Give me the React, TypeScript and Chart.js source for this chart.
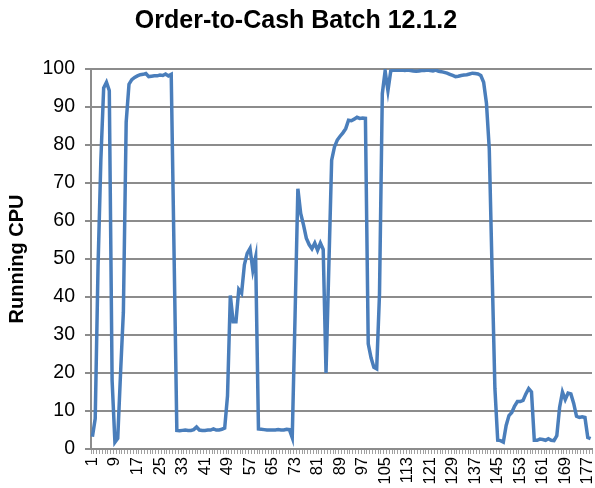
import React, { useEffect, useRef } from "react";
import { Chart, registerables } from "chart.js";

Chart.register(...registerables);

const titleText = "Order-to-Cash Batch 12.1.2";
const yAxisTitle = "Running CPU";
const pointCount = 178;
const categories: string[] = Array.from({ length: pointCount }, (_, i) => String(i + 1));
const labelStep = 8;
const yTicksMin = 0;
const yTicksMax = 100;
const yTicksStep = 10;

const runningCpu: number[] = [
  3.2, 8, 48, 76, 95, 96.5, 94.3, 18, 1.8, 2.8,
  20, 36, 86, 96, 97.2, 97.8, 98.2, 98.5, 98.6, 98.8,
  98.0, 98.1, 98.2, 98.2, 98.4, 98.3, 98.7, 98.2, 98.6, 52,
  4.9, 4.8, 4.9, 5.0, 4.9, 4.9, 5.1, 5.8, 5.0, 4.9,
  4.9, 5.0, 5.0, 5.3, 5.0, 5.0, 5.2, 5.5, 14, 40.4,
  33.5, 33.5, 42, 41, 48.5, 51.5, 52.8, 47, 50.5, 5.3,
  5.2, 5.1, 5.0, 5.0, 5.0, 5.0, 5.1, 5.0, 5.0, 5.2,
  5.1, 3, 35, 68.5, 62, 59, 55.5, 53.8, 52.7, 54.2,
  52.3, 54.2, 52.5, 20, 48, 76, 79.5, 81.3, 82.3, 83.2,
  84.3, 86.5, 86.4, 86.8, 87.3, 87, 87.1, 87, 27.7, 24,
  21.5, 21.1, 40.8, 93.5, 99.5, 94.3, 99.5, 99.7, 99.7, 99.7,
  99.7, 99.6, 99.7, 99.6, 99.5, 99.4, 99.5, 99.6, 99.6, 99.7,
  99.6, 99.5, 99.7, 99.4, 99.3, 99.1, 98.9, 98.6, 98.3, 98.0,
  98.1, 98.3, 98.4, 98.5, 98.7, 98.9, 98.8, 98.7, 98.3, 96.5,
  91, 79, 47, 16, 2.3, 2.2, 1.8, 6.2, 8.8, 9.6,
  11.3, 12.5, 12.5, 12.8, 14.5, 15.9, 15, 2.3, 2.3, 2.6,
  2.5, 2.3, 2.7, 2.3, 2.2, 3.5, 11, 15, 13, 14.7,
  14.5, 12, 8.6, 8.3, 8.5, 8.3, 3.0, 2.7,
];

const FONT = "'Liberation Sans', Arial, sans-serif";
const GRID = "#8c8c8c";

export default function App() {
  const ref = useRef<HTMLCanvasElement | null>(null);

  useEffect(() => {
    document.body.style.margin = "0";
    const canvas = ref.current;
    if (!canvas) return;
    const chart = new Chart(canvas, {
      type: "line",
      data: {
        labels: categories,
        datasets: [
          {
            data: runningCpu,
            borderColor: "#4A7EBB",
            backgroundColor: "#4A7EBB",
            borderWidth: 3.5,
            pointRadius: 0,
            tension: 0,
            fill: false,
          },
        ],
      },
      options: {
        animation: false,
        responsive: false,
        maintainAspectRatio: false,
        layout: { padding: { left: 0, right: 3, top: 0, bottom: 0 } },
        plugins: {
          legend: { display: false },
          tooltip: { enabled: false },
          title: {
            display: true,
            text: titleText,
            color: "#000",
            font: { family: FONT, size: 25, weight: "bold" },
            padding: { top: 6, bottom: 33 },
          },
        },
        scales: {
          x: {
            type: "category",
            offset: true,
            grid: {
              display: true,
              drawOnChartArea: false,
              drawTicks: true,
              tickLength: 5,
              color: "#a0a0a0",
              offset: true,
            },
            border: { display: true, color: GRID, width: 2 },
            ticks: {
              autoSkip: false,
              minRotation: 90,
              maxRotation: 90,
              padding: 3,
              color: "#000",
              font: { family: FONT, size: 16.5 },
              callback: (_v: any, i: number) => (i % labelStep === 0 ? categories[i] : ""),
            },
            afterFit: (s: any) => {
              s.height = 39;
              s.paddingRight = 0;
              s.paddingLeft = 0;
            },
          },
          y: {
            min: yTicksMin,
            max: yTicksMax,
            grid: { color: GRID, lineWidth: 2, tickLength: 6 },
            border: { display: true, color: GRID, width: 2 },
            ticks: {
              stepSize: yTicksStep,
              color: "#000",
              padding: 10,
              font: { family: FONT, size: 19.5 },
            },
            title: {
              display: true,
              text: yAxisTitle,
              color: "#000",
              font: { family: FONT, size: 20, weight: "bold" },
              padding: { top: 5, bottom: 0 },
            },
            afterFit: (s: any) => {
              s.width = 91;
              s.paddingTop = 0;
              s.paddingBottom = 0;
            },
          },
        },
      },
    });
    return () => chart.destroy();
  }, []);

  return (
    <div style={{ width: 595, height: 488 }}>
      <canvas ref={ref} width={595} height={488} style={{ display: "block" }} />
    </div>
  );
}
